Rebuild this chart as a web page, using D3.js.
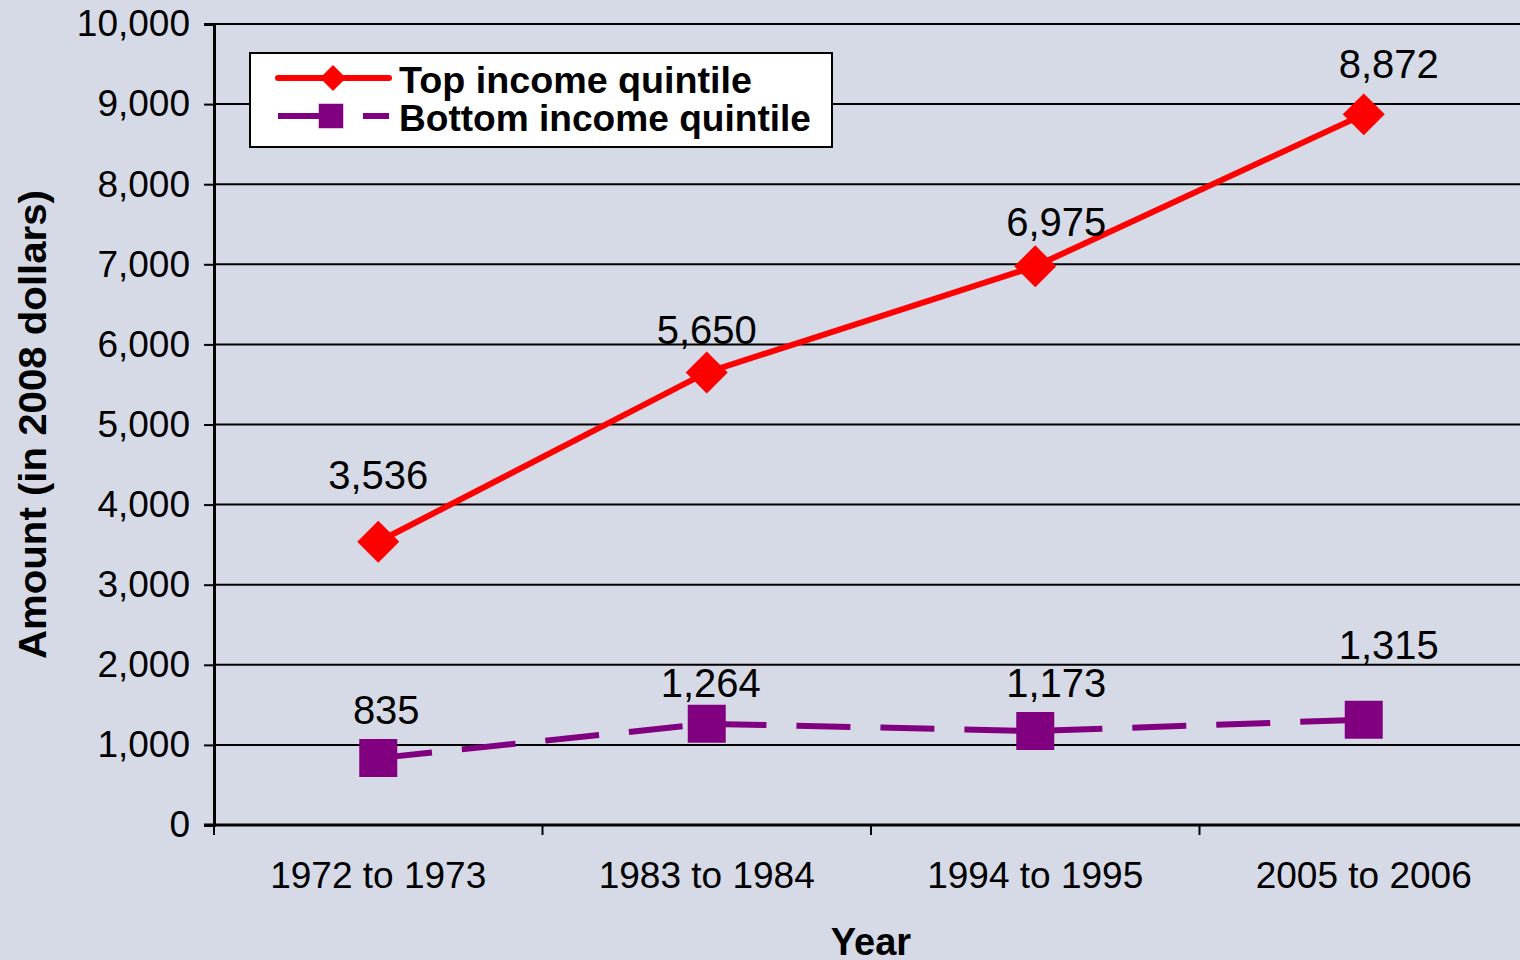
<!DOCTYPE html>
<html>
<head>
<meta charset="utf-8">
<script src="https://cdn.jsdelivr.net/npm/d3@7"></script>
<style>
    body { margin: 0; background: #d6dae6; }
    svg { display: block; font-family: "Liberation Sans", Arial, sans-serif; }
</style>
</head>
<body>
<svg width="1520" height="960"></svg>
<script>
const years = ["1972 to 1973", "1983 to 1984", "1994 to 1995", "2005 to 2006"];
const topQuintile = [3536, 5650, 6975, 8872];
const bottomQuintile = [835, 1264, 1173, 1315];
const yTicks = [0, 1000, 2000, 3000, 4000, 5000, 6000, 7000, 8000, 9000, 10000];

// label nudges copied from how excel placed them
const topLabelDx = [0, 0, 21, 25];
const topLabelDy = [-67, -42, -44, -50];
const bottomLabelDx = [8, 4, 21, 25];
const bottomLabelDy = [-48, -41, -48, -75];

const svg = d3.select("svg");
const plotLeft = 214, plotRight = 1528, plotTop = 24, plotBottom = 825;
const fmt = d3.format(",");

const x = d3.scaleBand()
    .domain(years)
    .range([plotLeft, plotRight]);

const y = d3.scaleLinear()
    .domain([0, 10000])
    .range([plotBottom, plotTop]);

const cx = d => x(d) + x.bandwidth() / 2;

svg.append("rect")
    .attr("width", 1520)
    .attr("height", 960)
    .attr("fill", "#d6dae6");

// gridlines
svg.append("g")
    .selectAll("line")
    .data(yTicks.filter(d => d > 0))
    .enter()
    .append("line")
    .attr("x1", plotLeft)
    .attr("x2", plotRight)
    .attr("y1", d => y(d))
    .attr("y2", d => y(d))
    .attr("stroke", "#000")
    .attr("stroke-width", 2);

// y axis
let yAxis = svg.append("g")
    .attr("transform", "translate(" + plotLeft + ",0)")
    .call(d3.axisLeft(y).tickValues(yTicks).tickFormat(fmt).tickSize(10).tickPadding(14));
yAxis.select(".domain").attr("stroke-width", 3);
yAxis.selectAll(".tick line").attr("stroke-width", 2);
yAxis.selectAll("text")
    .attr("font-size", 37)
    .attr("font-family", "Liberation Sans, Arial, sans-serif")
    .attr("fill", "#000");

// x axis, ticks sit between categories
let xAxis = svg.append("g")
    .attr("transform", "translate(0," + plotBottom + ")");
xAxis.append("line")
    .attr("x1", plotLeft - 10)
    .attr("x2", plotRight)
    .attr("stroke", "#000")
    .attr("stroke-width", 3);
xAxis.selectAll(".sep")
    .data(years)
    .enter()
    .append("line")
    .attr("class", "sep")
    .attr("x1", d => x(d))
    .attr("x2", d => x(d))
    .attr("y1", 0)
    .attr("y2", 10)
    .attr("stroke", "#000")
    .attr("stroke-width", 2);
xAxis.selectAll("text")
    .data(years)
    .enter()
    .append("text")
    .attr("x", d => cx(d))
    .attr("y", 63)
    .attr("text-anchor", "middle")
    .attr("font-size", 37)
    .text(d => d);

// axis titles
svg.append("text")
    .attr("x", (plotLeft + plotRight) / 2)
    .attr("y", 955)
    .attr("text-anchor", "middle")
    .attr("font-size", 38)
    .attr("font-weight", "bold")
    .text("Year");

svg.append("text")
    .attr("transform", "translate(46," + (plotTop + plotBottom) / 2 + ") rotate(-90)")
    .attr("text-anchor", "middle")
    .attr("font-size", 39)
    .attr("font-weight", "bold")
    .attr("textLength", 469)
    .attr("lengthAdjust", "spacingAndGlyphs")
    .text("Amount (in 2008 dollars)");

// lines
let line = d3.line()
    .x((d, i) => cx(years[i]))
    .y(d => y(d));

svg.append("path")
    .datum(bottomQuintile)
    .attr("d", line)
    .attr("fill", "none")
    .attr("stroke", "#800080")
    .attr("stroke-width", 6)
    .attr("stroke-dasharray", "54,30");

svg.append("path")
    .datum(topQuintile)
    .attr("d", line)
    .attr("fill", "none")
    .attr("stroke", "#ff0000")
    .attr("stroke-width", 6);

// markers
let diamond = d3.symbol().type(d3.symbolSquare).size(880);
let square = d3.symbol().type(d3.symbolSquare).size(1444);

svg.selectAll(".sq")
    .data(bottomQuintile)
    .enter()
    .append("path")
    .attr("class", "sq")
    .attr("d", square)
    .attr("transform", (d, i) => "translate(" + cx(years[i]) + "," + y(d) + ")")
    .attr("fill", "#800080");

svg.selectAll(".dia")
    .data(topQuintile)
    .enter()
    .append("path")
    .attr("class", "dia")
    .attr("d", diamond)
    .attr("transform", (d, i) => "translate(" + cx(years[i]) + "," + y(d) + ") rotate(45)")
    .attr("fill", "#ff0000");

// data labels
svg.selectAll(".toplab")
    .data(topQuintile)
    .enter()
    .append("text")
    .attr("class", "toplab")
    .attr("x", (d, i) => cx(years[i]) + topLabelDx[i])
    .attr("y", (d, i) => y(d) + topLabelDy[i] + 14)
    .attr("text-anchor", "middle")
    .attr("font-size", 40)
    .text(d => fmt(d));

svg.selectAll(".botlab")
    .data(bottomQuintile)
    .enter()
    .append("text")
    .attr("class", "botlab")
    .attr("x", (d, i) => cx(years[i]) + bottomLabelDx[i])
    .attr("y", (d, i) => y(d) + bottomLabelDy[i] + 14)
    .attr("text-anchor", "middle")
    .attr("font-size", 40)
    .text(d => fmt(d));

// legend
let legend = svg.append("g");
legend.append("rect")
    .attr("x", 250)
    .attr("y", 53)
    .attr("width", 582)
    .attr("height", 94)
    .attr("fill", "#fff")
    .attr("stroke", "#000")
    .attr("stroke-width", 2);

legend.append("line")
    .attr("x1", 278).attr("x2", 389)
    .attr("y1", 78).attr("y2", 78)
    .attr("stroke", "#ff0000")
    .attr("stroke-width", 6)
    .attr("stroke-linecap", "round");
legend.append("path")
    .attr("d", d3.symbol().type(d3.symbolSquare).size(340))
    .attr("transform", "translate(333,78) rotate(45)")
    .attr("fill", "#ff0000");

legend.append("line")
    .attr("x1", 278).attr("x2", 389)
    .attr("y1", 116).attr("y2", 116)
    .attr("stroke", "#800080")
    .attr("stroke-width", 6)
    .attr("stroke-dasharray", "52,33,26");
legend.append("path")
    .attr("d", d3.symbol().type(d3.symbolSquare).size(600))
    .attr("transform", "translate(331,116)")
    .attr("fill", "#800080");

legend.append("text")
    .attr("x", 399)
    .attr("y", 93)
    .attr("font-size", 37)
    .attr("font-weight", "bold")
    .attr("textLength", 353)
    .attr("lengthAdjust", "spacingAndGlyphs")
    .text("Top income quintile");
legend.append("text")
    .attr("x", 399)
    .attr("y", 131)
    .attr("font-size", 37)
    .attr("font-weight", "bold")
    .attr("textLength", 412)
    .attr("lengthAdjust", "spacingAndGlyphs")
    .text("Bottom income quintile");
</script>
</body>
</html>
